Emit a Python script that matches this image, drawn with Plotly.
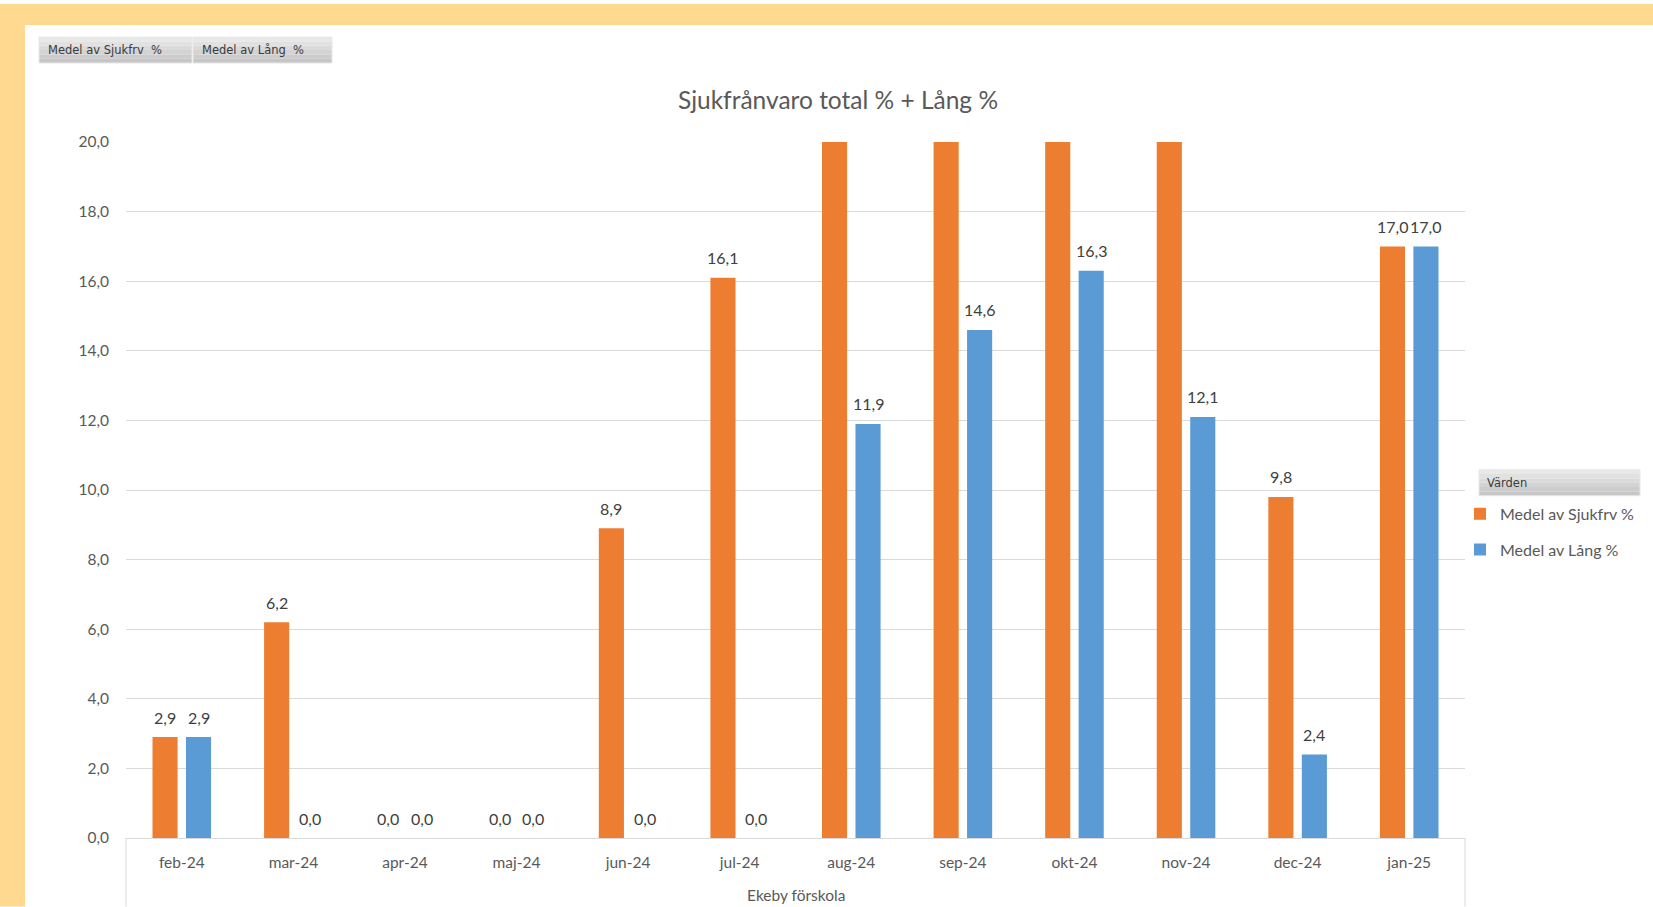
import plotly.graph_objects as go

categories = ["feb-24", "mar-24", "apr-24", "maj-24", "jun-24", "jul-24",
              "aug-24", "sep-24", "okt-24", "nov-24", "dec-24", "jan-25"]
sjukfrv = [2.9, 6.2, 0.0, 0.0, 8.9, 16.1, 22.0, 21.5, 23.0, 21.0, 9.8, 17.0]
lang = [2.9, 0.0, 0.0, 0.0, 0.0, 0.0, 11.9, 14.6, 16.3, 12.1, 2.4, 17.0]
series_names = ["Medel av Sjukfrv %", "Medel av Lång %"]
field_buttons = ["Medel av Sjukfrv  %", "Medel av Lång  %"]
title_text = "Sjukfrånvaro total % + Lång %"
xaxis_title = "Ekeby förskola"
legend_header = "Värden"
y_max = 20

W, H = 1653, 907
L, R = 126, 1465
T, B = 142, 838.5

def px(x):
    return (x - L) / (R - L)

def py(y):
    return (B - y) / (B - T)

def fmt(v):
    return ("%.1f" % v).replace(".", ",")

FONT = "Lato, 'Open Sans', sans-serif"
GRAY = "#595959"

fig = go.Figure()
colors = ["#ED7D31", "#5B9BD5"]
for i, (name, vals) in enumerate(zip(series_names, [sjukfrv, lang])):
    fig.add_trace(go.Bar(
        x=categories, y=vals, name=name,
        marker=dict(color=colors[i], line=dict(width=0)),
        legendgroup=f"g{i}",
    ))

# data labels placed above each bar through the axes
slot = (R - L) / len(categories) * (1 - 0.4) / 2
annotations = []
for i, vals in enumerate([sjukfrv, lang]):
    off = (-0.5 + i) * slot
    for c, v in zip(categories, vals):
        if v <= y_max:
            annotations.append(dict(
                x=c, y=v, xref="x", yref="y", text=fmt(v), showarrow=False,
                xshift=off, yshift=20, yanchor="middle",
                font=dict(family=FONT, size=16, color="#404040")))

shapes = []
# yellow frame
shapes.append(dict(type="rect", xref="paper", yref="paper",
                   x0=px(0), x1=px(W), y0=py(4), y1=py(25),
                   fillcolor="#FFD98F", line=dict(width=0), layer="below"))
shapes.append(dict(type="rect", xref="paper", yref="paper",
                   x0=px(0), x1=px(25), y0=py(4), y1=py(H),
                   fillcolor="#FFD98F", line=dict(width=0), layer="below"))
# frame lines below the plot
for xx in (L, R):
    shapes.append(dict(type="line", xref="paper", yref="paper",
                       x0=px(xx), x1=px(xx), y0=0, y1=py(H),
                       line=dict(color="#D9D9D9", width=1)))

def button(x0, x1, y0, y1):
    n = 6
    out = []
    for k in range(n):
        c = int(232 - (232 - 198) * k / (n - 1))
        ya = y0 + (y1 - y0) * k / n
        yb = y0 + (y1 - y0) * (k + 1) / n
        out.append(dict(type="rect", xref="paper", yref="paper",
                        x0=px(x0), x1=px(x1), y0=py(ya), y1=py(yb),
                        fillcolor=f"rgb({c},{c},{c})", line=dict(width=0)))
    out.append(dict(type="rect", xref="paper", yref="paper",
                    x0=px(x0), x1=px(x1), y0=py(y0), y1=py(y1),
                    fillcolor="rgba(0,0,0,0)", line=dict(color="#E8E8E8", width=1)))
    return out

shapes += button(39, 192, 37, 63)
shapes += button(193, 332, 37, 63)
shapes += button(1479, 1640, 470, 496)

annotations += [
    dict(text=field_buttons[0], xref="paper", yref="paper", x=px(46), y=py(50),
         xanchor="left", yanchor="middle", showarrow=False,
         font=dict(family="DejaVu Sans", size=11.5, color="#3a3a3a")),
    dict(text=field_buttons[1], xref="paper", yref="paper", x=px(200), y=py(50),
         xanchor="left", yanchor="middle", showarrow=False,
         font=dict(family="DejaVu Sans", size=11.5, color="#3a3a3a")),
    dict(text=legend_header, xref="paper", yref="paper", x=px(1485), y=py(483),
         xanchor="left", yanchor="middle", showarrow=False,
         font=dict(family="DejaVu Sans", size=11.5, color="#3a3a3a")),
    dict(text=xaxis_title, xref="paper", yref="paper", x=px(796), y=py(896),
         xanchor="center", yanchor="middle", showarrow=False,
         font=dict(family=FONT, size=15.5, color=GRAY)),
]

fig.update_layout(
    width=W, height=H,
    margin=dict(l=L, r=W - R, t=T, b=H - B, pad=0),
    paper_bgcolor="white", plot_bgcolor="white",
    separators=", ",
    barmode="group", bargap=0.4, bargroupgap=0.25,
    title=dict(text=title_text, x=838 / W, xanchor="center",
               y=1 - 100 / H, yanchor="middle", yref="container",
               font=dict(family=FONT, size=24.5, color=GRAY)),
    xaxis=dict(showgrid=False, showline=True, linecolor="#D9D9D9", linewidth=1,
               ticks="", tickfont=dict(family=FONT, size=15.5, color=GRAY),
               ticklabelstandoff=10),
    yaxis=dict(range=[0, y_max], dtick=2, tickformat=".1f",
               showgrid=True, gridcolor="#D9D9D9", gridwidth=1,
               zeroline=False, showline=False, ticks="",
               tickfont=dict(family=FONT, size=15.5, color=GRAY),
               ticklabelstandoff=16),
    legend=dict(x=px(1460), y=py(497), xanchor="left", yanchor="top",
                traceorder="grouped", tracegroupgap=12,
                font=dict(family=FONT, size=16, color=GRAY),
                itemwidth=30, bgcolor="rgba(0,0,0,0)"),
    shapes=shapes, annotations=annotations,
)

fig.write_html("out.html", config={"displayModeBar": False},
               post_script="document.body.style.margin='0';"
                           "document.documentElement.style.overflow='hidden';")
